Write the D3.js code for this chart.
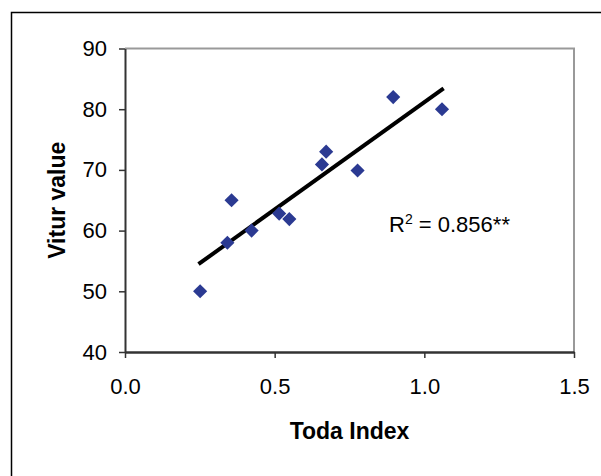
<!DOCTYPE html>
<html>
<head>
<meta charset="utf-8">
<script src="https://d3js.org/d3.v7.min.js"></script>
<style>
  body { margin: 0; background: #fff; }
  svg { font-family: Arial, "Liberation Sans", sans-serif; }
  .axis text { font-size: 22px; fill: #000; }
  .axis path, .axis line { stroke: #333; }
  .label { font-size: 23px; font-weight: bold; }
</style>
</head>
<body>
<svg id="chart" width="601" height="476"></svg>
<script>
// Toda Index vs Vitur value
var todaIndex = [0.251, 0.342, 0.356, 0.423, 0.515, 0.549, 0.658, 0.672, 0.777, 0.896, 1.059];
var viturValue = [50, 58, 65, 60, 62.8, 61.9, 70.9, 73, 69.9, 82, 80];
var xTicks = [0, 0.5, 1.0, 1.5];
var yTicks = [40, 50, 60, 70, 80, 90];
var r2Label = "0.856**";

var svg = d3.select("#chart");

// outer frame (runs off right and bottom edge like the source)
svg.append("rect")
  .attr("x", 11.5).attr("y", 12.5)
  .attr("width", 620).attr("height", 480)
  .attr("fill", "none").attr("stroke", "#000").attr("stroke-width", 1.5);

var plotL = 125, plotR = 574, plotT = 48.5, plotB = 352;

var x = d3.scaleLinear().domain([0, 1.5]).range([plotL, plotR]);
var y = d3.scaleLinear().domain([40, 90]).range([plotB, plotT]);

// gray top / right border of plot area
svg.append("path")
  .attr("d", "M" + plotL + "," + plotT + "H" + plotR + "V" + plotB)
  .attr("fill", "none").attr("stroke", "#999").attr("stroke-width", 2);

svg.append("g")
  .attr("class", "axis")
  .attr("transform", "translate(0," + plotB + ")")
  .call(d3.axisBottom(x).tickValues(xTicks).tickFormat(d3.format(".1f"))
    .tickSize(6).tickSizeOuter(0).tickPadding(20))
  .call(function(g) {
    g.select(".domain").attr("stroke-width", 2.5);
    g.selectAll(".tick line").attr("stroke-width", 1.5);
  });

svg.append("g")
  .attr("class", "axis")
  .attr("transform", "translate(" + plotL + ",0)")
  .call(d3.axisLeft(y).tickValues(yTicks).tickSize(6).tickSizeOuter(0).tickPadding(12))
  .call(function(g) {
    g.select(".domain").attr("stroke-width", 2);
    g.selectAll(".tick line").attr("stroke-width", 1.5);
  });

// least squares trend line
var n = todaIndex.length;
var mx = d3.mean(todaIndex), my = d3.mean(viturValue);
var sxy = 0, sxx = 0;
for (var i = 0; i < n; i++) {
  sxy += (todaIndex[i] - mx) * (viturValue[i] - my);
  sxx += (todaIndex[i] - mx) * (todaIndex[i] - mx);
}
var slope = sxy / sxx, intercept = my - slope * mx;
var ext = d3.extent(todaIndex);

svg.append("line")
  .attr("x1", x(ext[0])).attr("y1", y(intercept + slope * ext[0]))
  .attr("x2", x(ext[1])).attr("y2", y(intercept + slope * ext[1]))
  .attr("stroke", "#000").attr("stroke-width", 4).attr("stroke-linecap", "square");

// diamonds
svg.append("g").selectAll("path")
  .data(todaIndex)
  .enter()
  .append("path")
    .attr("d", d3.symbol().type(d3.symbolSquare).size(100))
    .attr("transform", function(d, i) {
      return "translate(" + x(d) + "," + y(viturValue[i]) + ") rotate(45)";
    })
    .attr("fill", "#2b3a92");

// R squared annotation
var r2 = svg.append("text")
  .attr("x", 389).attr("y", 232)
  .style("font-size", "22px");
r2.append("tspan").text("R");
r2.append("tspan").attr("dy", -8).style("font-size", "14px").text("2");
r2.append("tspan").attr("dy", 8).text(" = " + r2Label);

svg.append("text")
  .attr("class", "label")
  .attr("x", (plotL + plotR) / 2).attr("y", 439)
  .attr("text-anchor", "middle")
  .text("Toda Index");

svg.append("text")
  .attr("class", "label")
  .attr("transform", "translate(65," + (plotT + plotB) / 2 + ") rotate(-90)")
  .attr("text-anchor", "middle")
  .text("Vitur value");
</script>
</body>
</html>
